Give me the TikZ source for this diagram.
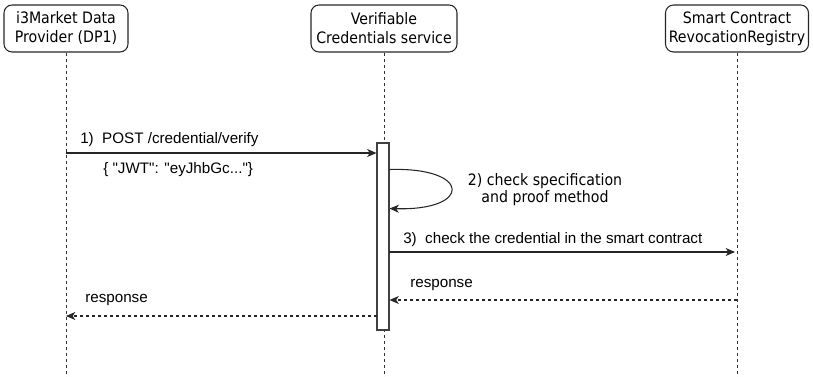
\documentclass[tikz,border=0pt]{standalone}
\usepackage{fontspec}
\setmainfont{Liberation Sans}[Ligatures=TeXOff]
\newfontfamily\hdfont{DejaVu Sans Condensed}
\usetikzlibrary{arrows.meta}
\tikzset{
  actor/.style={draw=black!85, line width=0.8pt, rounded corners=6pt, align=center,
    font=\hdfont\fontsize{11.8}{14.25}\selectfont, inner sep=0pt},
  lifeline/.style={draw=black!80, line width=0.6pt, dash pattern=on 2.25pt off 2.25pt},
  actbox/.style={draw=black!75, line width=0.8pt, fill=white, inner sep=0pt},
  msg/.style={draw=black!85, line width=0.8pt, -{Stealth[length=7pt,width=6pt,inset=2pt]}},
  ret/.style={msg, dash pattern=on 2.25pt off 2.25pt},
  lbl/.style={font=\fontsize{11.4}{13}\selectfont, inner sep=0pt},
  lbl2/.style={font=\hdfont\fontsize{11.8}{12.75}\selectfont, inner sep=0pt, align=center}
}
\begin{document}
\begin{tikzpicture}[x=0.75pt,y=-0.75pt]
\useasboundingbox (0,0) rectangle (813,377);
% actors
\node[actor, minimum width=124*0.75pt, minimum height=47*0.75pt] (dp) at (66,28.5) {i3Market Data\\Provider (DP1)};
\node[actor, minimum width=146*0.75pt, minimum height=47*0.75pt] (vc) at (384,28.5) {Verifiable\\Credentials service};
\node[actor, minimum width=143*0.75pt, minimum height=47*0.75pt] (sc) at (737,28.5) {Smart Contract\\RevocationRegistry};
% lifeline ends
\coordinate (dpE) at (66,377);
\coordinate (vcE) at (384,377);
\coordinate (scE) at (737,377);
\draw[lifeline] (dp.south) -- (dpE);
\draw[lifeline] (vc.south) -- (vcE);
\draw[lifeline] (sc.south) -- (scE);
% activation
\node[actbox, minimum width=12*0.75pt, minimum height=187*0.75pt] (act) at (383,236.5) {};
% message points
\coordinate (m1s) at (66,153);
\coordinate (m1e) at (act.west |- m1s);
\coordinate (s2s) at (389.5,169.5);
\coordinate (s2e) at (389.5,208.5);
\coordinate (m3s) at (389,252);
\coordinate (m3e) at (735,252);
\coordinate (r1s) at (737,300);
\coordinate (r1e) at (389.5,300);
\coordinate (r2s) at (377,316);
\coordinate (r2e) at (66,316);
\draw[msg] (m1s) -- (m1e);
\draw[msg] (s2s) .. controls (472,167) and (472,211) .. (s2e);
\draw[msg] (m3s) -- (m3e);
\draw[ret] (r1s) -- (r1e);
\draw[ret] (r2s) -- (r2e);
% labels
\node[lbl, anchor=west] (l1) at (80,140) {1)\ \ POST /credential/verify};
\node[lbl, anchor=west] (l1b) at (103,170) {\{ "JWT": "eyJhbGc..."\}};
\node[lbl2] (l2) at (545,189.5) {2) check specification\\and proof method};
\node[lbl, anchor=west] (l3) at (403,240) {3)\ \ check the credential in the smart contract};
\node[lbl, anchor=west] (l4) at (410,284.5) {response};
\node[lbl, anchor=west] (l5) at (85,300) {response};
\end{tikzpicture}
\end{document}
